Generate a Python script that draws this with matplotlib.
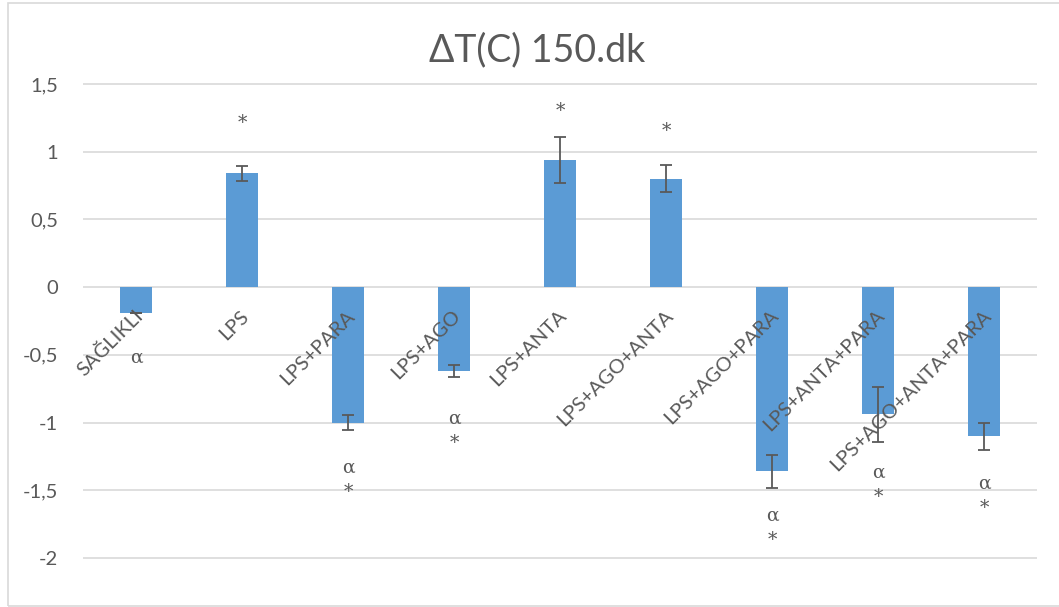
import matplotlib
matplotlib.use("Agg")
import matplotlib.pyplot as plt
import matplotlib.transforms as mtransforms
from matplotlib.patches import Rectangle

categories = ["SAĞLIKLI", "LPS", "LPS+PARA", "LPS+AGO", "LPS+ANTA", "LPS+AGO+ANTA",
              "LPS+AGO+PARA", "LPS+ANTA+PARA", "LPS+AGO+ANTA+PARA"]
values = [-0.19, 0.84, -1.00, -0.62, 0.94, 0.80, -1.36, -0.94, -1.10]
errors = [0.0, 0.055, 0.055, 0.045, 0.17, 0.10, 0.12, 0.205, 0.10]
marks = ["α", "*", "α\n*", "α\n*", "*", "*", "α\n*", "α\n*", "α\n*"]
mark_y = [-0.52, 1.21, -1.42, -1.06, 1.30, 1.15, -1.78, -1.46, -1.54]
yticks = [1.5, 1.0, 0.5, 0.0, -0.5, -1.0, -1.5, -2.0]
ytick_labels = ["1,5", "1", "0,5", "0", "-0,5", "-1", "-1,5", "-2"]
title = "ΔT(C) 150.dk"

FONT = ["Lato", "DejaVu Sans"]
TXT = "#595959"
plt.rcParams["font.family"] = FONT

W, H = 1059, 607
fig = plt.figure(figsize=(W / 100, H / 100), dpi=100)
ppu = (558 - 84) / 3.5
ymax = 1.5 + (84 - 70) / ppu
ymin = -2.0 - (593 - 558) / ppu
top_px, bot_px = 70, 593
ax = fig.add_axes([83 / W, 1 - bot_px / H, (1037 - 83) / W, (bot_px - top_px) / H])
ax.set_ylim(ymin, ymax)
ax.set_xlim(-0.5, len(categories) - 0.5)

x = list(range(len(categories)))
ax.bar(x, values, width=0.31, color="#5b9bd5", zorder=3)
ax.errorbar(x, values, yerr=errors, fmt="none", ecolor="#595959", elinewidth=1.3,
            capsize=4, capthick=1.3, zorder=4)

for sp in ax.spines.values():
    sp.set_visible(False)
ax.set_yticks(yticks)
ax.set_yticklabels(ytick_labels)
ax.tick_params(axis="y", length=0, pad=18, labelsize=14.5, labelcolor=TXT)
ax.set_xticks([])
ax.grid(axis="y", color="#d9d9d9", linewidth=1.2, zorder=0)
ax.set_axisbelow(True)

for xi, lab in zip(x, categories):
    off = mtransforms.offset_copy(ax.transData, fig=fig, x=-2, y=-20, units="dots")
    ax.text(xi, 0, lab, rotation=45, rotation_mode="anchor", ha="right", va="top",
            transform=off, fontsize=14.5, color=TXT, zorder=5)

for xi, m, my in zip(x, marks, mark_y):
    ax.text(xi, my, m, ha="center", va="center", fontsize=13.5, color=TXT,
            family=["DejaVu Serif"], linespacing=1.45, zorder=5)

fig.text(537 / W, 1 - 50 / H, title, ha="center", va="center", fontsize=27, color=TXT)

fig.patches.append(Rectangle((8 / W, 1 / H), 1.2, 1 - 4 / H, transform=fig.transFigure,
                             fill=False, edgecolor="#d9d9d9", linewidth=1.2))

fig.savefig("out.png", dpi=100)
